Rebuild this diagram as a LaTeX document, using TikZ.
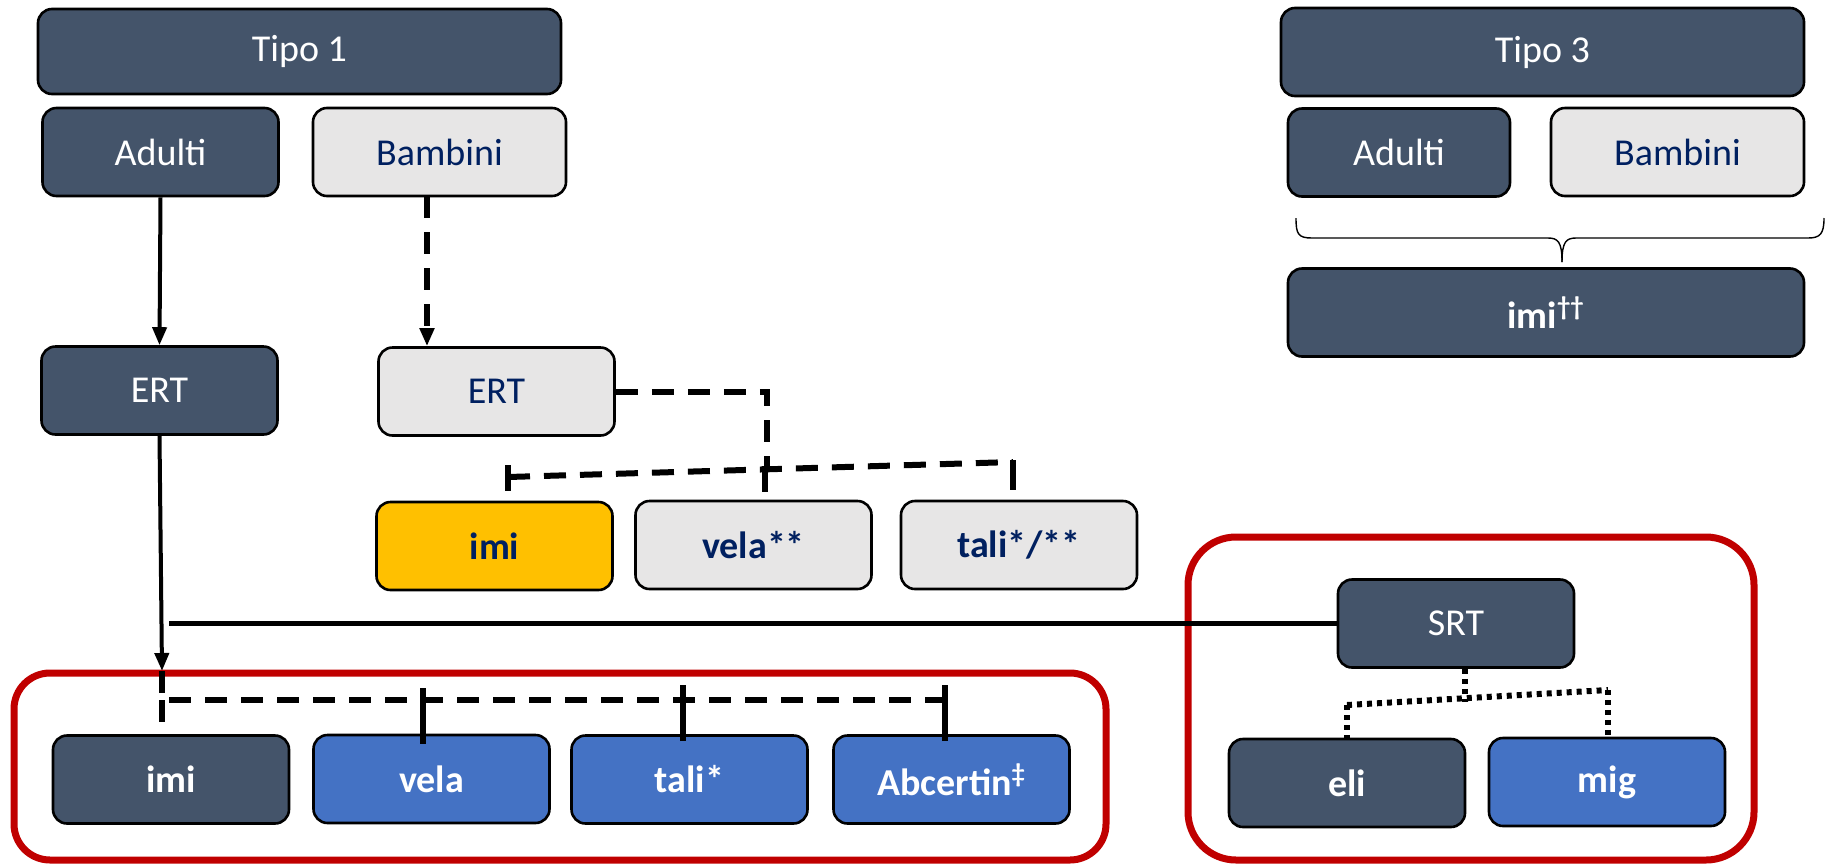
\documentclass[tikz,border=0pt]{standalone}
\usepackage{fontspec}
\setmainfont{Carlito}
\usetikzlibrary{arrows.meta}
\definecolor{slate}{HTML}{44546A}
\definecolor{paleg}{HTML}{E7E6E6}
\definecolor{accblue}{HTML}{4472C4}
\definecolor{amber}{HTML}{FFC000}
\definecolor{navy}{HTML}{002060}
\definecolor{crimson}{HTML}{C00000}
\tikzset{
  lbl/.style={font=\fontsize{19}{22}\selectfont},
  lblb/.style={font=\fontsize{19}{22}\selectfont\bfseries},
  box/.style={draw=black, line width=1.3pt, rounded corners=7pt,
    minimum width=118pt, minimum height=44pt, inner sep=0pt, align=center},
  darkbox/.style={box, lbl, fill=slate, text=white},
  darkbold/.style={box, lblb, fill=slate, text=white},
  greybox/.style={box, lbl, fill=paleg, text=navy},
  greybold/.style={box, lblb, fill=paleg, text=navy},
  amberbox/.style={box, lblb, fill=amber, text=navy},
  bluebox/.style={box, lblb, fill=accblue, text=white},
  redframe/.style={draw=crimson, line width=3.5pt},
  solidarrow/.style={line width=2pt, -{Triangle[length=9pt,width=7pt]}},
  dasharrow/.style={line width=2.6pt, dash pattern=on 11pt off 7pt, -{Triangle[length=9pt,width=7pt]}},
  dashln/.style={line width=3pt, dash pattern=on 11pt off 7pt},
  dotln/.style={line width=3pt, dash pattern=on 2.5pt off 2.5pt},
  tickln/.style={line width=2.6pt},
  braceln/.style={line width=0.7pt},
}
\begin{document}
\begin{tikzpicture}[x=0.5pt, y=-0.5pt]
\useasboundingbox (0,0) rectangle (1825,863);

% frames around the two groups
\draw[redframe, rounded corners=18pt] (14,673) rectangle (1106,860);
\draw[redframe, rounded corners=24pt] (1188,537) rectangle (1754,860);

% left column: Tipo 1
\node[darkbox, minimum width=261.5pt, minimum height=42.5pt] (t1) at (299.5,51.5) {Tipo 1};
\node[darkbox] (aL) at (160.5,152) {Adulti};
\node[greybox, minimum width=126.5pt] (bL) at (439.5,152) {Bambini};
\node[darkbox] (eD) at (159.5,390.5) {ERT};
\node[greybox] (eG) at (496.5,391.5) {ERT};
\node[amberbox] (iY) at (494.5,546) {imi};
\node[greybold] (vG) at (753.5,545) {vela**};
\node[greybold] (tG) at (1019,545) {tali*/**};

% bottom row
\node[darkbold] (iD) at (171,779.5) {imi};
\node[bluebox] (vB) at (431.5,779) {vela};
\node[bluebox] (tB) at (689.5,779.5) {tali*};
\node[bluebox] (aB) at (951.5,779.5) {Abcertin\textsuperscript{‡}};

% SRT group
\node[darkbox] (srt) at (1456,623.5) {SRT};
\node[darkbold] (eli) at (1347,783) {eli};
\node[bluebox] (mig) at (1607,782) {mig};

% right column: Tipo 3
\node[darkbox, minimum width=261.5pt] (t3) at (1542.5,52) {Tipo 3};
\node[darkbox, minimum width=111pt] (aR) at (1399,152.5) {Adulti};
\node[greybox, minimum width=126.5pt] (bR) at (1677.5,152) {Bambini};
\node[darkbold, minimum width=258pt] (iT) at (1546,312.5) {imi\textsuperscript{††}};

% adults branch
\draw[solidarrow] (aL.south) -- (eD.north);
\coordinate (jn) at (162,671);
\draw[solidarrow] (eD.south) -- (jn);
\coordinate (bar) at (162,700);
\coordinate (barend) at (945,700);
\draw[dashln] (jn) -- (bar) -- (barend);
\draw[dashln] (bar) -- (bar |- iD.north);
\draw[tickln] (vB.north) ++(-8.5,10) -- ++(0,-56);
\draw[tickln] (tB.north) ++(-6.5,7) -- ++(0,-56);
\draw[tickln] (aB.north) ++(-6.5,7) -- ++(0,-56);

% children branch
\coordinate (bx) at (427,196);
\draw[dasharrow] (bx) -- (bx |- eG.north);
\coordinate (knee) at (767,470);
\draw[dashln] (eG.east) -| (knee);
\coordinate (cl) at (508,477);
\coordinate (cr) at (1013,462);
\draw[dashln] (cl) -- (cr);
\draw[tickln] (iY.north) ++(13.5,-10) -- ++(0,-26);
\draw[tickln] (vG.north) ++(11.5,-8) -- ++(0,-26);
\draw[tickln] (tG.north) ++(-6,-10) -- ++(0,-30);

% link to SRT
\draw[line width=2.4pt] (srt.west) -- ++(-1168,0);

% SRT split
\coordinate (sl) at (1347,705);
\coordinate (sr) at (1608,690);
\draw[dotln] (srt.south) ++(9,0) -- ++(0,33);
\draw[dotln] (sl) -- (sr);
\draw[dotln] (sl) -- (eli.north);
\draw[dotln] (sr) -- (sr |- mig.north);

% brace under Tipo 3 groups
\draw[braceln] (1296,218) .. controls (1296,234) and (1298,238) .. (1312,238)
  -- (1548,238) .. controls (1558,238) and (1562,242) .. (1562,262);
\draw[braceln] (1562,262) .. controls (1562,242) and (1566,238) .. (1576,238)
  -- (1808,238) .. controls (1820,238) and (1824,234) .. (1824,218);
\end{tikzpicture}
\end{document}
